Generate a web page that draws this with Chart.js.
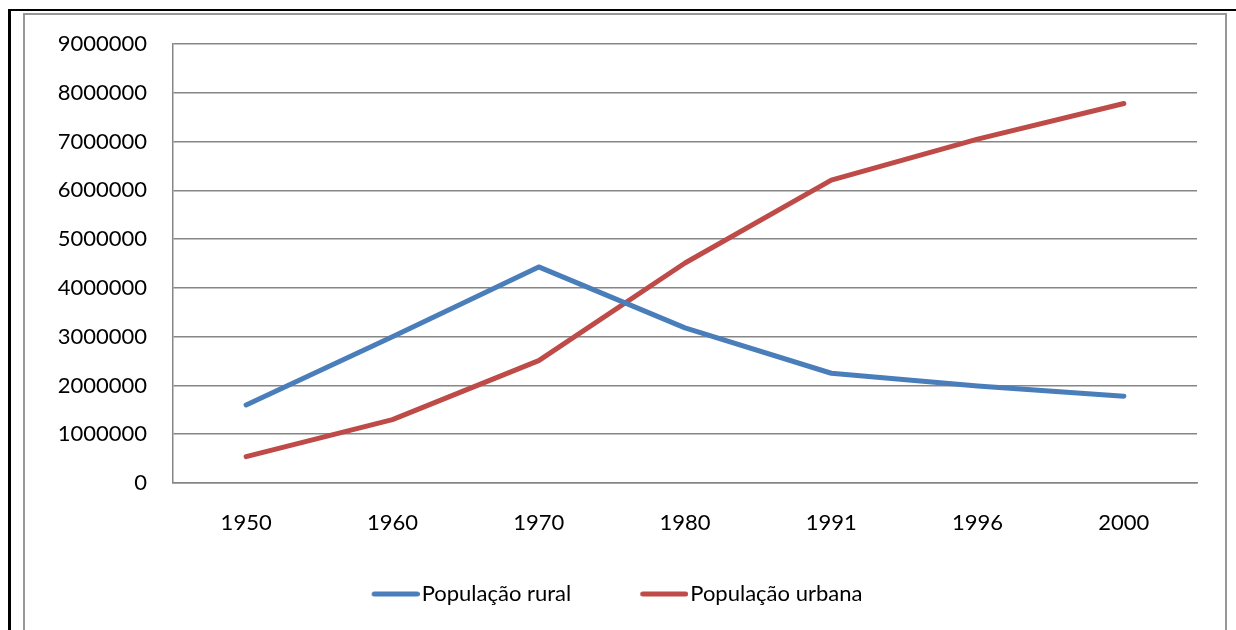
<!DOCTYPE html>
<html>
<head>
<meta charset="utf-8">
<script src="https://cdn.jsdelivr.net/npm/chart.js@4/dist/chart.umd.min.js"></script>
<style>
  html, body { margin: 0; padding: 0; background: #fff; width: 1236px; height: 630px; overflow: hidden; }
  #wrap { position: relative; width: 1236px; height: 630px; }
  #c { position: absolute; left: 0; top: 0; }
  .blk-top { position: absolute; left: 8px; top: 9px; width: 1228px; height: 2px; background: #000; }
  .blk-left { position: absolute; left: 8px; top: 9px; width: 3px; height: 621px; background: #000; }
  .gray { position: absolute; left: 23px; top: 13px; width: 1200px; height: 630px; border: 2px solid #979797; box-sizing: content-box; }
</style>
</head>
<body>
<div id="wrap">
  <div class="gray"></div>
  <div class="blk-top"></div>
  <div class="blk-left"></div>
  <canvas id="c" width="1236" height="630"></canvas>
</div>
<script>
const years = ["1950", "1960", "1970", "1980", "1991", "1996", "2000"];
const rural = [1600000, 3000000, 4430000, 3180000, 2250000, 1990000, 1780000];
const urbana = [540000, 1300000, 2510000, 4510000, 6210000, 7050000, 7780000];
const seriesNames = ["População rural", "População urbana"];
const seriesColors = ["#4A7EBB", "#BE4B48"];
const yMin = 0, yMax = 9000000, yStep = 1000000;

const FONT = "Lato, 'Open Sans', sans-serif";
const GRID = "#868686";

// legend swatch: a short round-capped line, sitting close to its text
function legendSwatch(color) {
  const cv = document.createElement("canvas");
  cv.width = 66; cv.height = 8;
  const g = cv.getContext("2d");
  g.strokeStyle = color;
  g.lineWidth = 5;
  g.lineCap = "round";
  g.beginPath();
  g.moveTo(20.5, 4);
  g.lineTo(63.5, 4);
  g.stroke();
  return cv;
}

// let the x-axis labels extend below the (compact) x-axis box without being clipped
const unclipXLabels = {
  id: "unclipXLabels",
  afterLayout(chart) {
    const x = chart.scales.x;
    x.bottom = x.top + 70;
  }
};

function makeSeries(i, values) {
  return {
    label: seriesNames[i],
    data: values,
    borderColor: seriesColors[i],
    backgroundColor: seriesColors[i],
    borderWidth: 5,
    borderCapStyle: "round",
    borderJoinStyle: "round",
    pointRadius: 0,
    pointHoverRadius: 0,
    pointStyle: legendSwatch(seriesColors[i]),
    tension: 0
  };
}

new Chart(document.getElementById("c"), {
  type: "line",
  data: {
    labels: years,
    datasets: [makeSeries(0, rural), makeSeries(1, urbana)]
  },
  plugins: [unclipXLabels],
  options: {
    responsive: false,
    animation: false,
    layout: { padding: { left: 28, right: 39, top: 44, bottom: 15 } },
    plugins: {
      tooltip: { enabled: false },
      legend: {
        position: "bottom",
        labels: {
          usePointStyle: true,
          pointStyleWidth: 48,
          padding: 60,
          color: "#000",
          font: { family: FONT, size: 22 }
        }
      }
    },
    scales: {
      x: {
        offset: true,
        grid: { display: false, drawTicks: false, offset: true },
        border: { display: true, color: GRID, width: 1.5 },
        ticks: { color: "#000", font: { family: FONT, size: 22 }, padding: 27, maxRotation: 0 },
        afterFit: (s) => { s.height = 40; }
      },
      y: {
        min: yMin,
        max: yMax,
        grid: { color: GRID, lineWidth: 1.5, drawTicks: false },
        border: { display: true, color: GRID, width: 1.5 },
        ticks: {
          stepSize: yStep,
          color: "#000",
          font: { family: FONT, size: 22 },
          padding: 26,
          callback: (v) => String(v)
        },
        afterFit: (s) => { s.width = 145; }
      }
    }
  }
});
</script>
</body>
</html>
